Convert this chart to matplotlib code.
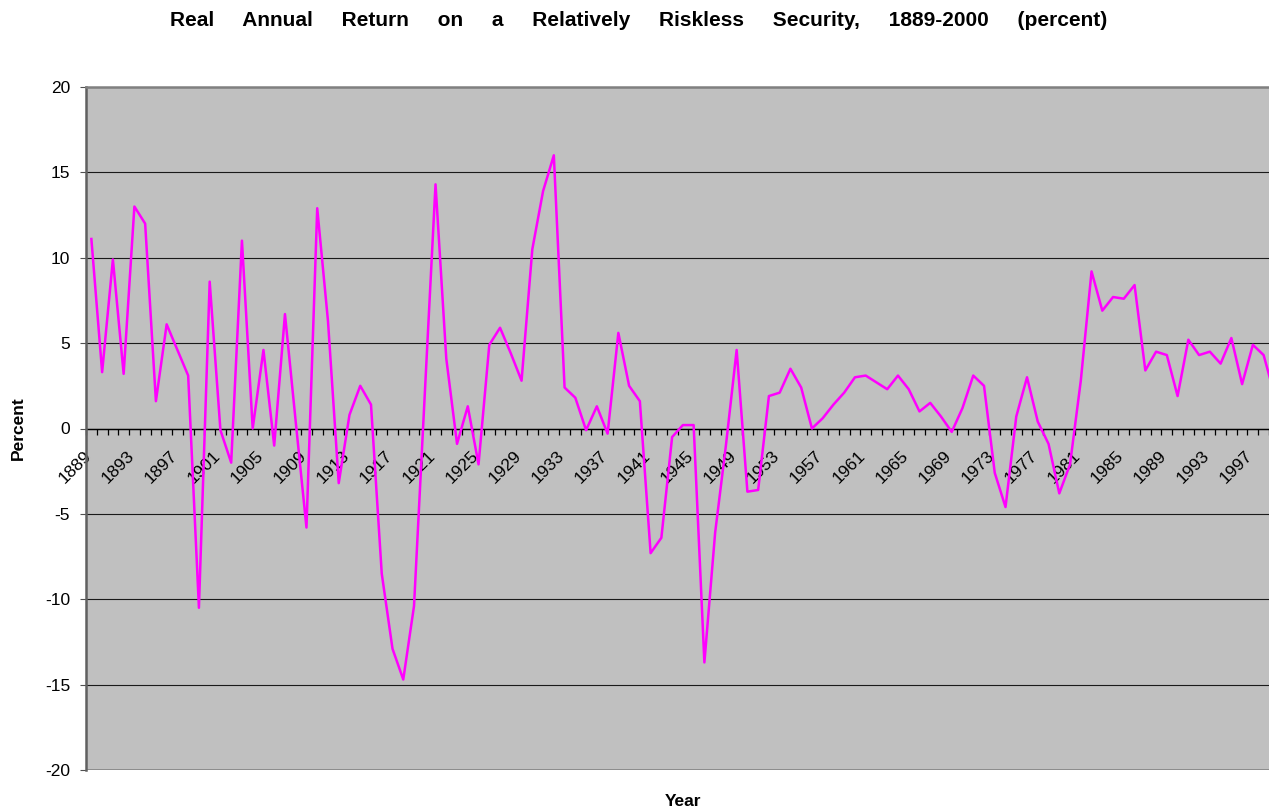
import numpy as np
import matplotlib
matplotlib.use("Agg")
import matplotlib.pyplot as plt
import matplotlib.transforms as mtransforms

plt.rcParams["font.family"] = ["Liberation Sans", "DejaVu Sans"]

# ─────────────────────────────────────────────
# DATA
# ─────────────────────────────────────────────
years = list(range(1889, 2000))
real_return = [
    11.1, 3.3, 9.9, 3.2, 13.0, 12.0, 1.6, 6.1, 4.6, 3.1,        # 1889-1898
    -10.5, 8.6, -0.1, -2.0, 11.0, 0.0, 4.6, -1.0, 6.7, 0.4,     # 1899-1908
    -5.8, 12.9, 6.3, -3.2, 0.8, 2.5, 1.4, -8.5, -12.9, -14.7,   # 1909-1918
    -10.4, 2.0, 14.3, 4.1, -0.9, 1.3, -2.1, 4.9, 5.9, 4.4,      # 1919-1928
    2.8, 10.5, 13.9, 16.0, 2.4, 1.8, -0.1, 1.3, -0.3, 5.6,      # 1929-1938
    2.5, 1.6, -7.3, -6.4, -0.5, 0.2, 0.2, -13.7, -6.1, -1.0,    # 1939-1948
    4.6, -3.7, -3.6, 1.9, 2.1, 3.5, 2.4, 0.0, 0.6, 1.4,         # 1949-1958
    2.1, 3.0, 3.1, 2.7, 2.3, 3.1, 2.3, 1.0, 1.5, 0.7,           # 1959-1968
    -0.2, 1.2, 3.1, 2.5, -2.6, -4.6, 0.7, 3.0, 0.4, -0.9,       # 1969-1978
    -3.8, -2.1, 2.8, 9.2, 6.9, 7.7, 7.6, 8.4, 3.4, 4.5,         # 1979-1988
    4.3, 1.9, 5.2, 4.3, 4.5, 3.8, 5.3, 2.6, 4.9, 4.3,           # 1989-1998
    2.0,                                                        # 1999
]
label_years = list(range(1889, 2000, 4))
y_ticks = [-20, -15, -10, -5, 0, 5, 10, 15, 20]

TITLE = "     ".join(["Real", "Annual", "Return", "on", "a", "Relatively",
                      "Riskless", "Security,", "1889-2000", "(percent)"])

# ─────────────────────────────────────────────
# FIGURE
# ─────────────────────────────────────────────
W, H = 1269, 809
fig = plt.figure(figsize=(W / 100, H / 100), dpi=100)
ax = fig.add_axes([86 / W, 1 - 770 / H, (W - 86) / W, (770 - 87) / H])
ax.set_facecolor("#C0C0C0")

ax.plot(years, real_return, color="#FF00FF", lw=1.8, zorder=3)

ax.set_xlim(1888.5, 1998.45)
ax.set_ylim(-20, 20)

# gridlines
ax.set_yticks(y_ticks)
ax.set_yticklabels([str(v) for v in y_ticks], fontsize=12.5)
ax.yaxis.grid(True, color="#1a1a1a", lw=0.8)
ax.set_axisbelow(True)
ax.tick_params(axis="y", direction="out", length=4.5, width=0.8, color="#505050", pad=7)

# frame
ax.spines["top"].set_color("#808080")
ax.spines["top"].set_linewidth(1.8)
ax.spines["right"].set_visible(False)
ax.spines["left"].set_color("#606060")
ax.spines["left"].set_linewidth(1.8)
ax.spines["bottom"].set_position(("data", 0))
ax.spines["bottom"].set_color("black")
ax.spines["bottom"].set_linewidth(1.0)
ax.spines["bottom"].set_zorder(2)
# bottom border of plot area at -20
ax.axhline(-20, color="#808080", lw=1.8, zorder=1)

# category axis: ticks between categories, labels every 4 years
ax.set_xticks(label_years)
ax.set_xticks(np.arange(1888.5, 1999.5, 1.0), minor=True)
ax.set_xticklabels([str(y) for y in label_years], fontsize=12.5,
                   rotation=45, ha="right", va="top", rotation_mode="anchor")
ax.tick_params(axis="x", which="major", length=0, pad=14)
ax.tick_params(axis="x", which="minor", direction="out", length=4, width=0.9, color="black")
shift = mtransforms.ScaledTranslation(-8 / 100, 0, fig.dpi_scale_trans)
for lbl in ax.get_xticklabels():
    lbl.set_transform(lbl.get_transform() + shift)

# titles
fig.text(639 / W, 1 - 21 / H, TITLE, ha="center", va="center",
         fontsize=15, fontweight="bold")
fig.text(18 / W, 1 - 428 / H, "Percent", rotation=90, ha="center", va="center",
         fontsize=12.5, fontweight="bold")
fig.text(683 / W, 1 - 801 / H, "Year", ha="center", va="center",
         fontsize=12.5, fontweight="bold")

fig.savefig("out.png", dpi=100)
